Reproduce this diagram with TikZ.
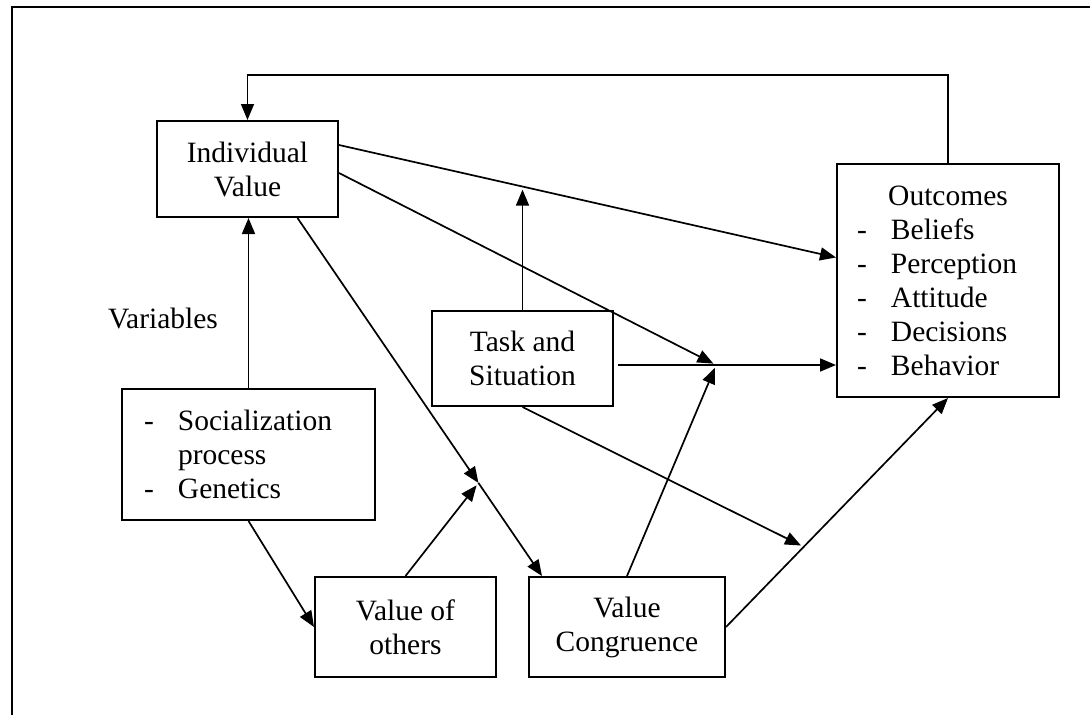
\documentclass[tikz,border=0pt]{standalone}
\usepackage{fontspec}
\setmainfont{Liberation Serif}
\usetikzlibrary{arrows.meta}
\newcommand{\dashitem}[1]{\makebox[34pt][l]{-}#1}

\begin{document}
\begin{tikzpicture}[x=1pt,y=-1pt,
        box/.style={draw,line width=2pt,inner sep=0pt,align=center,
            font=\fontsize{29.5}{34}\selectfont},
        arr/.style={line width=1.7pt,-{Triangle[length=16pt,width=13pt]}}]
    \useasboundingbox (0,0) rectangle (1090,715);
    \draw[line width=1.4pt] (12,715) -- (12,7) -- (1090,7);

    % boxes
    \node[box,minimum width=181pt,minimum height=96pt] (iv) at (247.5,169) {Individual\\Value};
    \node[box,minimum width=253pt,minimum height=131pt,inner xsep=22pt,text width=209pt,align=left]
        (soc) at (248.5,454.5) {\dashitem{Socialization}\\\hspace*{34pt}process\\\dashitem{Genetics}};
    \node[box,minimum width=181pt,minimum height=95pt] (task) at (522.5,358.5) {Task and\\Situation};
    \node[box,minimum width=181pt,minimum height=100pt] (voo) at (405.5,627) {Value of\\others};
    \node[box,minimum width=196pt,minimum height=100pt] (vc) at (627,627) {Value\\Congruence};
    \node[box,minimum width=222pt,minimum height=233pt,inner xsep=20pt,text width=182pt,align=left]
        (out) at (948,280.5) {\makebox[182pt]{Outcomes}\\\dashitem{Beliefs}\\\dashitem{Perception}\\
        \dashitem{Attitude}\\\dashitem{Decisions}\\\dashitem{Behavior}};
    \node[font=\fontsize{29.5}{34}\selectfont] (var) at (163,318) {Variables};

    % points where arrows meet arrows
    \coordinate (ivA) at ([yshift=24pt]iv.east);
    \coordinate (outA) at ([yshift=23pt]out.west);
    \path (ivA) -- (outA) coordinate[pos=0.37] (m0);
    \coordinate (ivB) at ([yshift=-4pt]iv.east);
    \coordinate (tsA) at ([yshift=-6.5pt]task.east);
    \path (tsA) -- (tsA -| out.west) coordinate[pos=0.46] (m1);
    \coordinate (ivC) at ([xshift=50pt]iv.south);
    \coordinate (vcA) at ([xshift=14pt]vc.north west);
    \path (ivC) -- (vcA) coordinate[pos=0.74] (m2);
    \path (vc.east) -- (out.south) coordinate[pos=0.35] (m3);

    % arrows
    \draw[arr,line width=1.3pt] (out.north) -- ++(0,-88) -| (iv.north);
    \draw[arr] (ivA) -- (outA);
    \draw[arr,shorten >=3pt] (task.north) -- (task.north |- m0);
    \draw[arr,shorten >=3pt] (ivB) -- (m1);
    \draw[arr,shorten <=4pt] (tsA) -- (tsA -| out.west);
    \draw[arr,shorten >=3pt] (vc.north) -- (m1);
    \draw[arr] (ivC) -- (m2);
    \draw[arr] (m2) -- (vcA);
    \draw[arr,shorten >=3pt] (voo.north) -- (m2);
    \draw[arr] (soc.north) -- (soc.north |- iv.south);
    \draw[arr] (soc.south) -- (voo.west);
    \draw[arr,shorten >=3pt] (task.south) -- (m3);
    \draw[arr] (vc.east) -- (out.south);
\end{tikzpicture}
\end{document}
